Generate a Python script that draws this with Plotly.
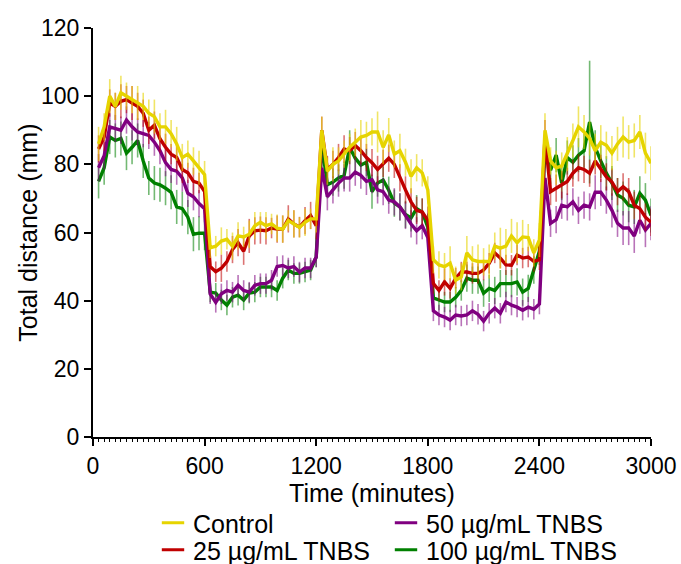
import plotly.graph_objects as go

time_min = list(range(30, 3001, 30))

control = [86, 91, 100, 97, 101, 100, 99, 98, 97, 95, 94, 91, 91, 89, 86, 82, 83, 81, 79, 77,
           55.5, 56, 57.5, 58, 56, 59, 58.7, 59.5, 62, 63, 62, 62.5, 61.3, 61, 63.5, 62.5, 61.5, 63, 64, 64,
           90, 78, 80, 81, 83, 85, 86.5, 88, 88.5, 89.5, 89.5, 85, 88.6, 83, 84, 80.6, 76.5, 79, 77.5, 72.5,
           52, 50.5, 50, 51, 46, 47, 54, 52, 51.5, 51.4, 51.5, 56, 55.4, 56, 59, 57, 58.7, 58.5, 54, 57.8,
           90, 81, 79, 79.5, 83, 87, 91, 89.5, 87.6, 84, 86.5, 85.6, 83.3, 86, 88, 86.5, 87, 89.5, 83.3, 80.3]

tnbs25 = [84.5, 88, 98, 97, 98.5, 99, 98, 97, 95, 90, 91.5, 87.5, 85, 83, 82, 78.5, 77.5, 75, 74.5, 72,
          50, 48.5, 49.5, 51.5, 55, 57, 54.5, 59, 60.5, 60.7, 60.5, 61.3, 61, 61, 64, 62.5, 61.6, 63.5, 65, 62,
          90, 78.5, 80, 82, 84.5, 84, 85.5, 84, 82, 80.5, 78.5, 80.3, 81.8, 80, 76, 72.5, 69, 66.5, 66, 63.6,
          45, 43, 45.5, 43.6, 46.6, 48.4, 48.4, 48, 48, 49, 51, 54, 52.5, 50.5, 50.4, 53.4, 52.5, 52.8, 51.5, 52,
          88, 72, 73, 74, 75, 77.4, 79, 78.5, 77.4, 81, 78.8, 76.3, 74.8, 72, 73.4, 72, 68, 67, 64.5, 63]

tnbs50 = [79, 82.5, 91, 90.5, 90, 93, 91, 89.5, 89, 88.5, 86.5, 84, 80.5, 78.5, 78, 76, 71.5, 70.5, 68.5, 67,
          42, 39.5, 42, 43, 42.5, 44.5, 43, 42.5, 44.5, 45, 45, 46, 50, 50.3, 49.6, 50, 48.4, 49.6, 49.6, 52.8,
          79, 70.5, 72.5, 74.5, 76, 76, 77.7, 76.8, 75, 75.5, 72.5, 72, 69.5, 69, 67.5, 65, 62.5, 60.5, 62, 58.5,
          37, 35.8, 35.2, 34.3, 35.8, 35.5, 35.8, 37, 36, 34, 36.3, 37.8, 36.3, 39.6, 38.7, 38.1, 37.2, 38.1, 37.5, 39,
          76, 62.7, 63.8, 68, 67.5, 69, 66.5, 68, 67.5, 71.8, 71.8, 69.5, 66.5, 62.7, 61.3, 61.3, 59, 63.6, 60.7, 62.7]

tnbs100 = [75, 79, 88, 87, 87.6, 83.3, 85, 87, 81, 76, 74.5, 74, 73, 71.8, 67.5, 67, 64.5, 59.5, 59.8, 59.8,
           42.5, 42.2, 40.2, 38.7, 41, 41.6, 40.2, 42.2, 42.5, 44, 44, 44, 43, 46.6, 49, 48, 48, 48.4, 49, 52.8,
           86, 74, 74.8, 76, 76.8, 85, 81.8, 79.8, 80.6, 72, 74.5, 75.4, 72.4, 68.6, 67.5, 65.3, 64.3, 67, 66, 61.6,
           40.8, 40.2, 39.6, 39.6, 41, 43, 46.6, 46, 46, 42.2, 43.6, 43, 45, 45, 45, 45.5, 42.5, 43.6, 49, 54.5,
           84, 78.3, 82.7, 74.5, 82, 80.6, 82.7, 84, 92.4, 85, 81, 77.4, 74.5, 71, 70, 68, 67.5, 71.5, 69.5, 65]

err_control = [5, 4, 5, 4, 5, 4, 4, 5, 4, 4, 5, 4, 5, 4, 5, 4, 4, 4, 5, 4,
               3, 3, 4, 3, 4, 4, 3, 4, 4, 3, 4, 3, 4, 4, 3, 4, 3, 4, 3, 4,
               4, 4, 5, 4, 4, 4, 4, 5, 4, 4, 6, 5, 5, 4, 5, 4, 5, 4, 4, 4,
               4, 4, 4, 5, 4, 4, 5, 4, 5, 4, 5, 4, 6, 5, 5, 6, 5, 4, 4, 5,
               5, 4, 5, 4, 5, 5, 6, 5, 5, 5, 5, 4, 5, 5, 6, 5, 5, 5, 6, 5]
err_25 = [4, 4, 4, 4, 5, 4, 5, 4, 4, 4, 4, 4, 4, 3, 4, 4, 3, 4, 3, 4,
          3, 3, 4, 3, 4, 4, 4, 5, 4, 4, 4, 3, 4, 4, 4, 4, 3, 4, 4, 4,
          4, 4, 4, 4, 4, 4, 4, 4, 4, 4, 4, 4, 4, 4, 4, 4, 4, 4, 4, 4,
          3, 3, 4, 3, 3, 3, 3, 3, 3, 3, 3, 3, 3, 3, 3, 3, 3, 3, 3, 3,
          5, 4, 4, 4, 4, 4, 4, 4, 4, 4, 4, 4, 4, 4, 4, 4, 4, 4, 4, 4]
err_50 = [4, 4, 4, 4, 4, 4, 4, 4, 4, 4, 4, 4, 4, 4, 4, 4, 4, 4, 4, 4,
          3, 3, 3, 3, 3, 3, 3, 3, 3, 3, 3, 3, 3, 3, 3, 3, 3, 3, 3, 3,
          4, 4, 4, 4, 4, 4, 4, 4, 4, 4, 4, 4, 4, 4, 4, 4, 4, 4, 4, 4,
          3, 3, 3, 3, 3, 3, 3, 3, 3, 3, 3, 3, 3, 3, 3, 3, 3, 3, 3, 3,
          4, 4, 4, 4, 4, 4, 4, 4, 4, 5, 4, 4, 5, 4, 5, 5, 5, 4, 5, 5]
err_100 = [5, 5, 5, 5, 5, 5, 5, 5, 5, 5, 5, 5, 5, 5, 5, 5, 5, 5, 5, 5,
           3, 3, 3, 3, 3, 3, 3, 3, 3, 3, 3, 3, 3, 3, 3, 3, 3, 3, 3, 3,
           4, 4, 4, 4, 4, 5, 4, 4, 4, 5, 4, 4, 4, 4, 4, 4, 4, 4, 4, 4,
           3, 3, 3, 3, 3, 3, 4, 4, 4, 4, 4, 4, 4, 4, 4, 4, 4, 4, 4, 4,
           5, 4, 5, 5, 5, 5, 5, 5, 18, 5, 5, 5, 5, 5, 5, 5, 5, 5, 5, 5]

# (name, values, errors, line colour, error colour, legend id)
series = [
    ("100 µg/mL TNBS", tnbs100, err_100, "#008000", "rgba(0,128,0,0.55)", "legend4"),
    ("50 µg/mL TNBS", tnbs50, err_50, "#800080", "rgba(128,0,128,0.55)", "legend2"),
    ("25 µg/mL TNBS", tnbs25, err_25, "#C00000", "rgba(192,0,0,0.55)", "legend3"),
    ("Control", control, err_control, "#E6D400", "rgba(230,212,0,0.6)", "legend"),
]

fig = go.Figure()
for name, vals, errs, col, ecol, leg in series:
    fig.add_trace(go.Scatter(
        x=time_min, y=vals, mode="lines", name=name, showlegend=False,
        line=dict(color=col, width=3.4),
        error_y=dict(type="data", array=errs, visible=True, color=ecol, thickness=1.6, width=0),
    ))
for name, vals, errs, col, ecol, leg in series:
    fig.add_trace(go.Scatter(
        x=[None], y=[None], mode="markers", name=name, legend=leg,
        marker=dict(symbol="line-ew", size=17, color=col, line=dict(color=col, width=3)),
    ))

FAM = "Liberation Sans, Arial, sans-serif"
tick_font = dict(family=FAM, size=23, color="black")
title_font = dict(family=FAM, size=25, color="black")

leg_common = dict(orientation="v", xref="container", yref="container",
                  xanchor="left", yanchor="top", font=title_font,
                  itemwidth=30, bgcolor="rgba(0,0,0,0)", borderwidth=0)

col1_x, col2_x = 153 / 681, 386 / 681
row1_y, row2_y = 1 - 500 / 564, 1 - 527 / 564

fig.update_layout(
    width=681, height=564,
    margin=dict(l=93, r=30, t=28, b=127, pad=0, autoexpand=False),
    paper_bgcolor="white", plot_bgcolor="white",
    font=tick_font,
    showlegend=True,
    legend=dict(x=col1_x, y=row1_y, **leg_common),
    legend2=dict(x=col2_x, y=row1_y, **leg_common),
    legend3=dict(x=col1_x, y=row2_y, **leg_common),
    legend4=dict(x=col2_x, y=row2_y, **leg_common),
    xaxis=dict(range=[0, 3000], tickvals=[0, 600, 1200, 1800, 2400, 3000],
               showgrid=False, zeroline=False, showline=True, linecolor="black", linewidth=2,
               ticks="outside", ticklen=7, tickwidth=2, tickcolor="black", automargin=True,
               minor=dict(dtick=30, ticks="outside", ticklen=3, tickwidth=1, tickcolor="black"),
               title=dict(text="Time (minutes)", standoff=6, font=title_font), tickfont=tick_font),
    yaxis=dict(range=[0, 120], tickvals=[0, 20, 40, 60, 80, 100, 120],
               showgrid=False, zeroline=False, showline=True, linecolor="black", linewidth=2,
               ticks="outside", ticklen=7, tickwidth=2, tickcolor="black", automargin=False,
               tickfont=tick_font),
    annotations=[dict(text="Total distance (mm)", textangle=-90, font=title_font,
                      xref="paper", yref="paper", x=-0.118, y=0.5,
                      xanchor="center", yanchor="middle", showarrow=False)],
)

fig.write_html("out.html")
